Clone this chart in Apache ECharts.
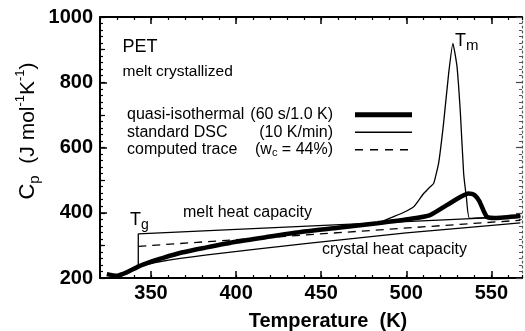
<!DOCTYPE html>
<html><head><meta charset="utf-8">
<script src="https://cdn.jsdelivr.net/npm/echarts@6/dist/echarts.min.js"></script>
<style>html,body{margin:0;padding:0;background:#fff}#c{width:525px;height:331px}</style>
</head><body><div id="c"></div>
<script>
// ---- data ----
const xTickLabels = [350, 400, 450, 500, 550];
const yTickLabels = [200, 400, 600, 800, 1000];
const seriesNames = ['quasi-isothermal', 'standard DSC', 'computed trace'];

const quasiT  = [324, 330, 336, 342.5, 350, 356, 368, 382, 400, 420, 438, 460, 483, 502, 514, 524, 532, 536.5, 540, 543, 545.5, 547.5, 552, 567];
const quasiCp = [212, 207, 218, 235, 250, 260, 278, 293, 311, 327, 341, 354, 368, 381, 393, 424, 449, 459, 455, 435, 405, 387, 384, 390];

const dscT  = [438, 460, 483, 492.5, 498, 504.3, 510.2, 514.1, 516.1, 519, 521.9, 524.9, 527.4, 529.8, 531.8, 533.7, 535.3, 537.2, 550, 567];
const dscCp = [341, 354, 368, 388, 400, 418, 459, 480, 490, 552, 674, 827, 919, 848, 705, 521, 449, 383, 386, 390];

const computedT  = [342.5, 567];
const computedCp = [297, 377];

const meltT  = [342.5, 342.5, 567];
const meltCp = [235, 335, 389];

const crystalT  = [342.5, 354, 381.8, 442, 500, 567];
const crystalCp = [235, 249, 270, 306, 338, 369];

// ---- helpers ----
const zip = (a, b) => a.map((v, i) => [v, b[i]]);
const FONT = '"Liberation Sans", Arial, sans-serif';
const BLACK = '#000';
const xMin = 320, xMax = 568, yMin = 200, yMax = 1000;

// legend sample icons (57 x 10 box; the two tiny corner stubs fix the box size)
const BOX = 'M0,0L0.01,0Z M57,10L56.99,10Z ';
const iconThick = 'path://' + BOX + 'M0,2.6H57V7.4H0Z';
const iconThin = 'path://' + BOX + 'M0,4.35H57V5.65H0Z';
const iconDash = 'path://' + BOX + 'M0,4.35H8V5.65H0Z M15,4.35H23V5.65H15Z M30,4.35H38V5.65H30Z M45,4.35H53V5.65H45Z';

const chart = echarts.init(document.getElementById('c'), null, {renderer: 'canvas'});

const baseX = {type: 'value', min: xMin, max: xMax, splitLine: {show: false}};
const baseY = {type: 'value', min: yMin, max: yMax, splitLine: {show: false}};

const option = {
  animation: false,
  backgroundColor: '#fff',
  grid: {left: 100, right: 3, top: 17, bottom: 53, containLabel: false, outerBoundsMode: 'none'},
  xAxis: [
    Object.assign({}, baseX, {
      position: 'bottom',
      axisLine: {show: true, onZero: false, lineStyle: {color: BLACK, width: 2}},
      axisTick: {show: true, inside: true, length: 7, customValues: xTickLabels, lineStyle: {color: BLACK, width: 1.5}},
      axisLabel: {show: true, customValues: xTickLabels, fontSize: 20, fontWeight: 'bold', color: BLACK, margin: 5, fontFamily: FONT,
        formatter: v => String(v)},
      name: 'Temperature  (K)', nameLocation: 'middle', nameGap: 33, nameMoveOverlap: false,
      nameTextStyle: {fontSize: 20, fontWeight: 'bold', color: BLACK, fontFamily: FONT, padding: [0, 0, 0, 34]}
    }),
    Object.assign({}, baseX, {
      position: 'bottom', interval: 10,
      axisLine: {show: false}, axisLabel: {show: false},
      axisTick: {show: true, inside: true, length: 3, lineStyle: {color: BLACK, width: 1.2}}
    }),
    Object.assign({}, baseX, {
      position: 'top',
      axisLine: {show: true, onZero: false, lineStyle: {color: BLACK, width: 2}},
      axisTick: {show: true, inside: true, length: 7, customValues: xTickLabels, lineStyle: {color: BLACK, width: 1.5}},
      axisLabel: {show: false}
    }),
    Object.assign({}, baseX, {
      position: 'top', interval: 10,
      axisLine: {show: false}, axisLabel: {show: false},
      axisTick: {show: true, inside: true, length: 3, lineStyle: {color: BLACK, width: 1.2}}
    })
  ],
  yAxis: [
    Object.assign({}, baseY, {
      position: 'left', interval: 200,
      axisLine: {show: true, onZero: false, lineStyle: {color: BLACK, width: 2}},
      axisTick: {show: true, inside: true, length: 7, lineStyle: {color: BLACK, width: 1.5}},
      minorTick: {show: true, splitNumber: 10, length: 3, lineStyle: {color: BLACK, width: 1.2}},
      axisLabel: {show: true, fontSize: 20, fontWeight: 'bold', color: BLACK, margin: 7, fontFamily: FONT,
        formatter: v => String(v)},
      name: '{c|C}{p|p}{n|  (J mol}{u|-1}{n|K}{u|-1}{n|)}',
      nameLocation: 'middle', nameRotate: 90, nameGap: 58, nameMoveOverlap: false,
      nameTextStyle: {
        color: BLACK, fontFamily: FONT, fontSize: 21, padding: [0, 0, 0, 33],
        rich: {
          c: {fontSize: 22, fontFamily: FONT, color: BLACK, lineHeight: 28},
          n: {fontSize: 21, fontFamily: FONT, color: BLACK, lineHeight: 28},
          p: {fontSize: 15, fontFamily: FONT, color: BLACK, verticalAlign: 'bottom', lineHeight: 17},
          u: {fontSize: 13, fontFamily: FONT, color: BLACK, verticalAlign: 'top', lineHeight: 15}
        }
      }
    }),
    Object.assign({}, baseY, {
      position: 'left', interval: 100,
      axisLine: {show: false}, axisLabel: {show: false},
      axisTick: {show: true, inside: true, length: 5, lineStyle: {color: BLACK, width: 1.2}}
    }),
    Object.assign({}, baseY, {
      position: 'right', interval: 200,
      axisLine: {show: true, onZero: false, lineStyle: {color: '#555', width: 1.2, type: [2, 3]}},
      axisTick: {show: true, inside: true, length: 6, lineStyle: {color: '#444', width: 1.2}},
      minorTick: {show: true, splitNumber: 10, length: 3, lineStyle: {color: '#555', width: 1}},
      axisLabel: {show: false}
    })
  ],
  legend: {
    orient: 'vertical', left: 122, top: 101, align: 'right',
    itemWidth: 57, itemHeight: 10, itemGap: 0, selectedMode: false,
    itemStyle: {color: BLACK, borderWidth: 0},
    data: [
      {name: seriesNames[0], icon: iconThick},
      {name: seriesNames[1], icon: iconThin},
      {name: seriesNames[2], icon: iconDash}
    ],
    formatter: function (name) {
      if (name === seriesNames[0]) return '{a|quasi-isothermal}{bp|(60 s/1.0 K)}';
      if (name === seriesNames[1]) return '{a|standard DSC}{bp|(10 K/min)}';
      return '{a|computed trace}{b|(w}{s|c}{bp| = 44%)}';
    },
    textStyle: {
      width: 223, fontSize: 16, color: BLACK, fontFamily: FONT, lineHeight: 17.5,
      rich: {
        a: {fontSize: 16, fontFamily: FONT, color: BLACK, align: 'left', lineHeight: 17.5},
        b: {fontSize: 16, fontFamily: FONT, color: BLACK, align: 'right', lineHeight: 17.5},
        bp: {fontSize: 16, fontFamily: FONT, color: BLACK, align: 'right', lineHeight: 17.5, padding: [0, 17, 0, 0]},
        s: {fontSize: 11, fontFamily: FONT, color: BLACK, align: 'right', verticalAlign: 'bottom', lineHeight: 12}
      }
    }
  },
  graphic: [
    {type: 'text', x: 122.5, y: 47, style: {text: 'PET', fontSize: 18, fontFamily: FONT, fill: BLACK, align: 'left', verticalAlign: 'middle'}},
    {type: 'text', x: 122.5, y: 72, style: {text: 'melt crystallized', fontSize: 15.5, fontFamily: FONT, fill: BLACK, align: 'left', verticalAlign: 'middle'}},
    {type: 'text', x: 183, y: 213, style: {text: 'melt heat capacity', fontSize: 16, fontFamily: FONT, fill: BLACK, align: 'left', verticalAlign: 'middle'}},
    {type: 'text', x: 322, y: 250, style: {text: 'crystal heat capacity', fontSize: 16, fontFamily: FONT, fill: BLACK, align: 'left', verticalAlign: 'middle'}},
    {type: 'text', x: 130, y: 220, style: {text: '{t|T}{s|g}', align: 'left', verticalAlign: 'middle',
      rich: {t: {fontSize: 18, fontFamily: FONT, fill: BLACK, lineHeight: 24}, s: {fontSize: 14, fontFamily: FONT, fill: BLACK, verticalAlign: 'bottom', lineHeight: 14}}}},
    {type: 'text', x: 455, y: 41, style: {text: '{t|T}{s|m}', align: 'left', verticalAlign: 'middle',
      rich: {t: {fontSize: 18, fontFamily: FONT, fill: BLACK, lineHeight: 24}, s: {fontSize: 15, fontFamily: FONT, fill: BLACK, verticalAlign: 'bottom', lineHeight: 15}}}}
  ],
  series: [
    {name: seriesNames[0], type: 'line', xAxisIndex: 0, yAxisIndex: 0, data: zip(quasiT, quasiCp),
      symbol: 'none', smooth: 0.2, z: 5, lineStyle: {color: BLACK, width: 4.5}, itemStyle: {color: BLACK}},
    {name: seriesNames[1], type: 'line', xAxisIndex: 0, yAxisIndex: 0, data: zip(dscT, dscCp),
      symbol: 'none', smooth: 0.15, z: 4, lineStyle: {color: BLACK, width: 1.3}, itemStyle: {color: BLACK}},
    {name: seriesNames[2], type: 'line', xAxisIndex: 0, yAxisIndex: 0, data: zip(computedT, computedCp),
      symbol: 'none', z: 3, lineStyle: {color: BLACK, width: 1.3, type: [8, 6]}, itemStyle: {color: BLACK}},
    {name: 'melt heat capacity', type: 'line', xAxisIndex: 0, yAxisIndex: 0, data: zip(meltT, meltCp),
      symbol: 'none', z: 3, lineStyle: {color: BLACK, width: 1.3}},
    {name: 'crystal heat capacity', type: 'line', xAxisIndex: 0, yAxisIndex: 0, data: zip(crystalT, crystalCp),
      symbol: 'none', smooth: 0.2, z: 3, lineStyle: {color: BLACK, width: 1.3}}
  ]
};
chart.setOption(option);
</script>
</body></html>
